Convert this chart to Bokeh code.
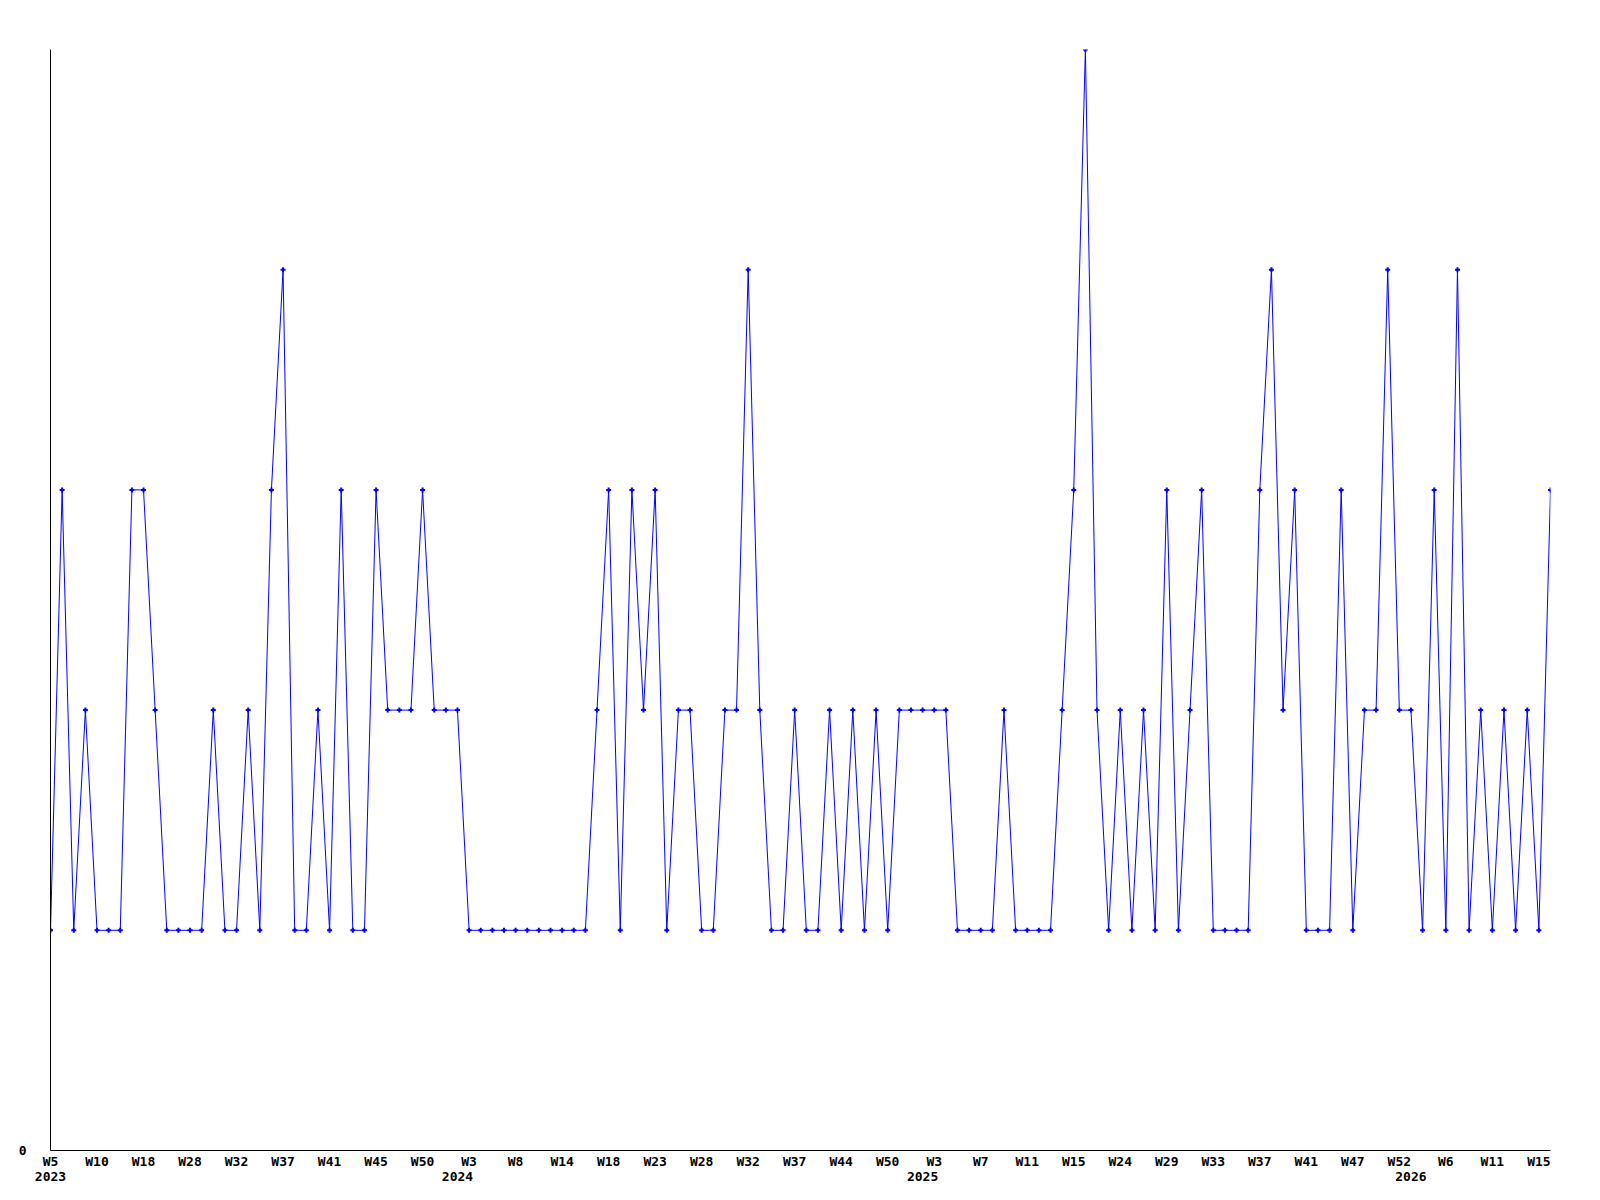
from bokeh.plotting import figure
from bokeh.models import Range1d, FixedTicker, LinearAxis, ColumnDataSource
from bokeh.embed import file_html
from bokeh.resources import INLINE

# Weekly categories: ISO year and week of each data point
weeks_2023 = [5, 6, 7, 9, 10, 12, 14, 16, 18, 21, 24, 26, 28, 29, 30, 31, 32, 33,
              34, 36, 37, 38, 39, 40, 41, 42, 43, 44, 45, 46, 47, 48, 50, 51, 52]
weeks_2024 = [2, 3, 4, 5, 7, 8, 10, 11, 13, 14, 15, 16, 17, 18, 19, 21, 22, 23,
              24, 26, 27, 28, 29, 30, 31, 32, 33, 35, 36, 37, 39, 41, 43, 44, 46,
              47, 49, 50, 51, 52]
weeks_2025 = [2, 3, 4, 5, 6, 7, 8, 9, 10, 11, 12, 13, 14, 15, 16, 18, 22, 24, 25,
              27, 28, 29, 30, 31, 32, 33, 34, 35, 36, 37, 38, 39, 40, 41, 42, 44,
              45, 47, 48, 50, 51, 52]
weeks_2026 = [1, 3, 4, 6, 7, 8, 10, 11, 12, 13, 14, 15, 16]

weeks = weeks_2023 + weeks_2024 + weeks_2025 + weeks_2026
years = ([2023] * len(weeks_2023) + [2024] * len(weeks_2024)
         + [2025] * len(weeks_2025) + [2026] * len(weeks_2026))

values = [
    1, 3, 1, 2, 1, 1, 1, 3, 3, 2,
    1, 1, 1, 1, 2, 1, 1, 2, 1, 3,
    4, 1, 1, 2, 1, 3, 1, 1, 3, 2,
    2, 2, 3, 2, 2, 2, 1, 1, 1, 1,
    1, 1, 1, 1, 1, 1, 1, 2, 3, 1,
    3, 2, 3, 1, 2, 2, 1, 1, 2, 2,
    4, 2, 1, 1, 2, 1, 1, 2, 1, 2,
    1, 2, 1, 2, 2, 2, 2, 2, 1, 1,
    1, 1, 2, 1, 1, 1, 1, 2, 3, 5,
    2, 1, 2, 1, 2, 1, 3, 1, 2, 3,
    1, 1, 1, 1, 3, 4, 2, 3, 1, 1,
    1, 3, 1, 2, 2, 4, 2, 2, 1, 3,
    1, 4, 1, 2, 1, 2, 1, 2, 1, 3,
]

n = len(values)
xs = list(range(n))

# week tick labels: every 4th category
tick_idx = list(range(0, n, 4))
week_labels = {i: f"W{weeks[i]}" for i in tick_idx}
# year labels under the first data point of each year
year_ticks = [years.index(y) for y in sorted(set(years))]
year_labels = {i: str(years[i]) for i in year_ticks}

FONT = "DejaVu Sans Mono"
FSIZE = "13px"

p = figure(
    width=1592, height=1190,
    output_backend="svg", toolbar_location=None,
    x_range=Range1d(0, n - 1), y_range=Range1d(0, 5),
    min_border_left=50, min_border_right=42,
    min_border_top=49, min_border_bottom=40,
)
p.outline_line_color = None
p.xgrid.visible = False
p.ygrid.visible = False
p.background_fill_color = "white"
p.border_fill_color = "white"

src = ColumnDataSource(dict(x=xs, y=values))
p.line("x", "y", source=src, line_color="#0000ff", line_width=1)
p.scatter("x", "y", source=src, marker="cross", size=5,
          line_color="#0000ff", line_width=2)

for ax in p.xaxis:
    ax.ticker = FixedTicker(ticks=tick_idx)
    ax.major_label_overrides = week_labels
    ax.axis_line_color = "black"
    ax.axis_line_width = 1
    ax.major_tick_line_color = None
    ax.minor_tick_line_color = None
    ax.major_tick_out = 0
    ax.major_tick_in = 0
    ax.major_label_standoff = 3
    ax.major_label_text_font = FONT
    ax.major_label_text_font_style = "bold"
    ax.major_label_text_font_size = FSIZE
    ax.major_label_text_color = "black"

year_axis = LinearAxis(
    ticker=FixedTicker(ticks=year_ticks),
    major_label_overrides=year_labels,
    axis_line_color=None,
    major_tick_line_color=None,
    minor_tick_line_color=None,
    major_tick_out=0, major_tick_in=0,
    major_label_standoff=0,
    major_label_text_font=FONT,
    major_label_text_font_style="bold",
    major_label_text_font_size=FSIZE,
    major_label_text_color="black",
)
p.add_layout(year_axis, "below")

for ax in p.yaxis:
    ax.ticker = FixedTicker(ticks=[0])
    ax.axis_line_color = "black"
    ax.major_tick_line_color = None
    ax.minor_tick_line_color = None
    ax.major_tick_out = 0
    ax.major_tick_in = 0
    ax.major_label_standoff = 24
    ax.major_label_text_font = FONT
    ax.major_label_text_font_style = "bold"
    ax.major_label_text_font_size = FSIZE
    ax.major_label_text_color = "black"

open("out.html", "w").write(file_html(p, INLINE))
